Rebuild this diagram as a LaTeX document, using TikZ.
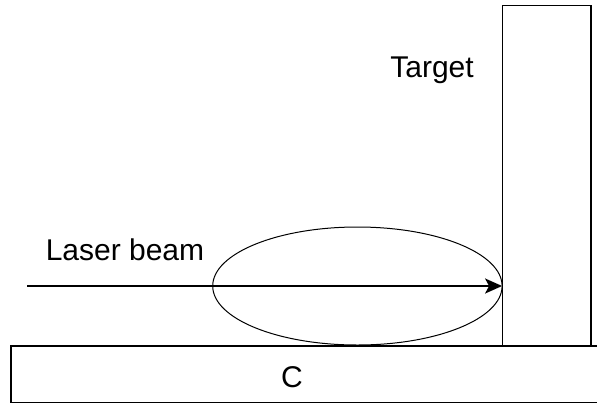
\documentclass[tikz,border=0pt]{standalone}
\usepackage{fontspec}
\setmainfont{Liberation Sans}
\usetikzlibrary{arrows.meta,shapes.geometric}

\begin{document}
\begin{tikzpicture}[x=1pt,y=-1pt,
    box/.style={draw,line width=1.3pt,inner sep=0pt},
    lbl/.style={font=\fontsize{30}{33}\selectfont,anchor=base,inner sep=0pt}]
  \useasboundingbox (0,0) rectangle (597,405);
  % wall and floor
  \node[box,minimum width=88.3pt,minimum height=340.3pt] (target) at (546.9,175.9) {};
  \node[box,minimum width=589pt,minimum height=56.5pt] (floor) at (305.5,374.2) {};
  % focal spot
  \node[draw,ellipse,line width=1pt,inner sep=0pt,minimum width=289.4pt,
    minimum height=118pt] (spot) at (357.4,286) {};
  \coordinate (src) at (27,286);
  \draw[line width=2pt,-{Stealth[length=17pt,width=15pt,inset=4pt]}] (src) -- (src -| target.west);
  \node[lbl] (beam) at (125,260.7) {Laser beam};
  \node[lbl] (tname) at (432,77.7) {Target};
  \node[lbl] (cname) at (292,387) {C};
\end{tikzpicture}
\end{document}
